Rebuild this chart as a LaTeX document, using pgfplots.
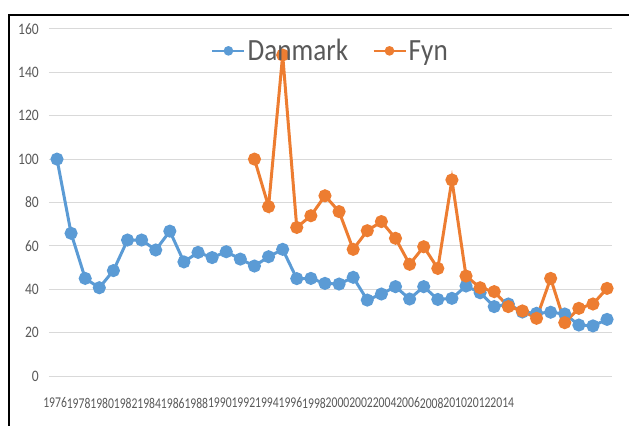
\documentclass[border=0pt]{standalone}
\usepackage{fontspec}
\newfontfamily\calfont[FakeStretch=0.88]{Carlito}
\newfontfamily\xfont[FakeStretch=0.78]{Carlito}
\newfontfamily\yfont[FakeStretch=0.85]{Carlito}
\usepackage{pgfplots}
\pgfplotsset{compat=1.18}
\definecolor{dkblue}{HTML}{5B9BD5}
\definecolor{fyorange}{HTML}{ED7D31}
\definecolor{txtgray}{HTML}{595959}
\definecolor{gridgray}{HTML}{D9D9D9}
\begin{document}
\begin{tikzpicture}
\path[use as bounding box] (0,0) rectangle (629bp,426bp);
\draw[black, line width=1.6bp] (9bp,0) -- (9bp,411bp) -- (629bp,411bp);
\begin{axis}[
  at={(49bp,50bp)}, anchor=south west,
  scale only axis, width=563bp, height=347bp,
  xmin=-0.567, xmax=39.35, ymin=0, ymax=160,
  ytick={0,20,...,160},
  xtick={-0.135,1.534,3.203,4.871,6.540,8.209,9.878,11.547,13.215,14.884,16.553,18.222,19.891,21.559,23.228,24.897,26.566,28.235,29.903,31.572},
  xticklabels={1976,1978,1980,1982,1984,1986,1988,1990,1992,1994,1996,1998,2000,2002,2004,2006,2008,2010,2012,2014},
  ymajorgrids, grid style={gridgray, line width=1bp},
  axis line style={draw=none}, major tick length=0pt,
  /pgf/number format/assume math mode=true,
  /pgf/number format/1000 sep={},
  yticklabel style={font=\yfont\fontsize{16}{16}\selectfont, text=txtgray, anchor=east, inner sep=0pt, xshift=-10bp},
  xticklabel style={font=\xfont\fontsize{15}{15}\selectfont, text=txtgray, anchor=center, inner sep=0pt, yshift=-27bp},
  clip=false,
  legend columns=2,
  legend style={at={(0.5,0.937)}, anchor=center, draw=none, fill=none,
    font=\calfont\fontsize{31}{31}\selectfont, text=txtgray,
    /tikz/every even column/.append style={column sep=22bp}},
  legend image code/.code={\draw[#1, line width=2.5bp, mark size=3.5bp, mark repeat=2, mark phase=2] plot coordinates {(0bp,0bp) (16bp,0bp) (32bp,0bp)};},
]
\addplot[dkblue, line width=3bp, mark=*, mark size=5bp, mark options={solid}] coordinates {
(0,100) (1,65.8) (2,45.0) (3,40.7) (4,48.6) (5,62.7) (6,62.7) (7,58.1) (8,66.8) (9,52.6)
(10,57.0) (11,54.6) (12,57.3) (13,53.9) (14,50.7) (15,55.0) (16,58.4) (17,44.9) (18,45.0) (19,42.7)
(20,42.4) (21,45.5) (22,35.0) (23,37.8) (24,41.2) (25,35.5) (26,41.2) (27,35.3) (28,35.8) (29,41.5)
(30,38.4) (31,32.0) (32,33.2) (33,29.5) (34,28.9) (35,29.4) (36,28.6) (37,23.5) (38,23.1) (39,26.1)
};
\addlegendentry{Danmark}
\addplot[fyorange, line width=3bp, mark=*, mark size=5bp, mark options={solid}] coordinates {
(14,100) (15,78.1) (16,148) (17,68.5) (18,73.9) (19,83.1) (20,75.8) (21,58.4) (22,67.0) (23,71.2)
(24,63.5) (25,51.5) (26,59.6) (27,49.6) (28,90.4) (29,46.1) (30,40.7) (31,38.9) (32,32.0) (33,30.0)
(34,26.6) (35,45.0) (36,24.6) (37,31.2) (38,33.2) (39,40.4)
};
\addlegendentry{Fyn}
\end{axis}
\end{tikzpicture}
\end{document}
